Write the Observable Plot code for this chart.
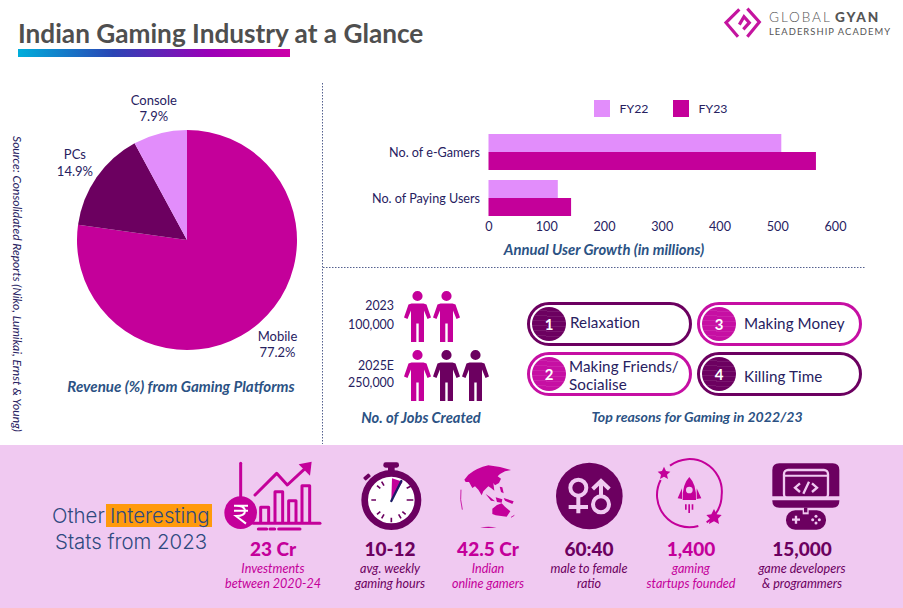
<!DOCTYPE html>
<html><head><meta charset="utf-8">
<script src="https://cdn.jsdelivr.net/npm/d3@7"></script>
<script src="https://cdn.jsdelivr.net/npm/@observablehq/plot@0.6"></script>
<style>
html,body{margin:0;padding:0;background:#fff}
#page{position:relative;width:903px;height:608px;overflow:hidden;font-family:Lato,"Noto Sans",sans-serif;background:#fff}
#page>svg,#page>figure{position:absolute;margin:0}
.t{position:absolute;white-space:nowrap;line-height:1}
.c{transform:translateX(-50%);text-align:center}
.cap{font-weight:700;font-style:italic;color:#2b5284}
.pill{position:absolute;box-sizing:border-box;width:165px;height:44px;border-radius:22px;border:3px solid;background:#fff}
.badge{position:absolute;left:2px;top:2px;width:34px;height:34px;border-radius:50%;color:#fff;font-weight:700;font-size:15px;text-align:center;line-height:34px;background-image:repeating-linear-gradient(2deg,rgba(255,255,255,.09) 0 1px,transparent 1px 5px)}
.pilltxt{position:absolute;color:#27215f;font-size:15.2px;letter-spacing:.08px;line-height:18.3px;white-space:nowrap}
.val{font-weight:900;font-size:19px}
.sub{font-style:italic;font-size:12.6px;line-height:15px}
.hl{font-family:Inter;font-weight:300;font-size:20.4px;color:#2f4a7f}
</style></head><body><div id="page"></div>
<script>
const MAGENTA="#c4009a", LILAC="#e28dfb", PLUM="#6c0060", NAVY="#27215f", BAND="#f0c9f1";

// Pie
const platforms=["Mobile","PCs","Console"];
const revenueShare=[77.2,14.9,7.9];
const platformColors=[MAGENTA,PLUM,LILAC];
// Bars
const userMetrics=["No. of e-Gamers","No. of Paying Users"];
const fiscalYears=["FY22","FY23"];
const usersFY22=[507,120];
const usersFY23=[567,143];
const userTicks=[0,100,200,300,400,500,600];
// Jobs pictogram
const jobYears=["2023","2025E"];
const jobCounts=["100,000","250,000"];
const jobIconFills=[[MAGENTA,MAGENTA],[MAGENTA,PLUM,PLUM]];
// Reasons
const reasons=["Relaxation","Making Friends/<br>Socialise","Making Money","Killing Time"];
const reasonColors=[PLUM,"#c60fa3","#c60fa3",PLUM];
// Stats
const statValues=["23 Cr","10-12","42.5 Cr","60:40","1,400","15,000"];
const statLabels=[["Investments","between 2020-24"],["avg. weekly","gaming hours"],["Indian","online gamers"],["male to female","ratio"],["gaming","startups founded"],["game developers","& programmers"]];
const statColors=[MAGENTA,PLUM,MAGENTA,PLUM,MAGENTA,PLUM];
const statCentres=[273,390,488,589,691,802];

const page=document.getElementById("page");
function place(node,l,t){node.style.left=l+"px";node.style.top=t+"px";page.appendChild(node);return node}
function text(s,x,y,css,cls="t"){const d=document.createElement("div");d.className=cls;d.innerHTML=s;d.style.cssText=`left:${x}px;top:${y}px;${css||""}`;page.appendChild(d);return d}

// page furniture
const deco=`<svg xmlns="http://www.w3.org/2000/svg" width="903" height="608" style="left:0;top:0">
<defs><linearGradient id="g"><stop offset="0" stop-color="#00aedb"/><stop offset=".35" stop-color="#2a45b5"/><stop offset=".7" stop-color="#9a00b8"/><stop offset="1" stop-color="#cc00a8"/></linearGradient></defs>
<rect x="0" y="445" width="903" height="163" fill="${BAND}"/>
<rect x="18" y="49" width="272" height="8" fill="url(#g)"/>
<line x1="322.5" y1="83" x2="322.5" y2="444" stroke="#54608f" stroke-dasharray="1.5 1.5"/>
<line x1="323" y1="267.5" x2="866" y2="267.5" stroke="#54608f" stroke-dasharray="1.5 1.5"/>
<g transform="translate(720,4) scale(.33333)" fill="none" stroke="#c4149f" stroke-width="9.5">
<path d="M58 16L18 56L54 98"/><path d="M82 14L118 54L82 98"/><path d="M58 62L72 38L88 56L70 76"/></g>
<rect x="106" y="504" width="106" height="23" fill="#ff9a0c"/>
<g transform="translate(0,445) scale(.33333)">
 <g fill="none" stroke="${MAGENTA}" stroke-width="9" stroke-linecap="round" stroke-linejoin="round">
  <path d="M722 55V165"/><path d="M760 235H960"/>
  <path d="M782 232V187H806V232M825 232V140H848V232M866 232V167H888V232M906 232V122H929V232"/>
  <path d="M765 150L830 85L862 120L918 68"/><path d="M775 252H800M810 252H824M836 252H900"/></g>
 <path d="M935 50L896 58L930 92Z" fill="${MAGENTA}"/>
 <circle cx="722" cy="203" r="49" fill="${MAGENTA}"/>
 <path d="M702 182H744M702 197H744M708 182Q735 182 735 198Q735 213 708 213L738 236" fill="none" stroke="#fff" stroke-width="6"/>
 <!-- stopwatch -->
 <g fill="${PLUM}"><rect x="1150" y="52" width="47" height="16" rx="7"/><rect x="1164" y="62" width="20" height="22"/>
  <rect x="1090" y="90" width="22" height="12" rx="3" transform="rotate(-40 1101 96)"/></g>
 <circle cx="1174" cy="165" r="80" fill="#fff" stroke="${PLUM}" stroke-width="20"/>
 <path d="M1174 165L1176 100L1208 110Z" fill="${MAGENTA}"/>
 <path d="M1174 168L1204 108" stroke="#1c1c66" stroke-width="7" stroke-linecap="round"/>
 <g stroke="${PLUM}" stroke-width="5"><path d="M1174 218V232M1114 165H1128M1220 165H1240M1131 122L1141 130M1217 208L1207 200M1131 208L1141 200M1235 122L1220 130M1145 220L1152 208M1203 220L1196 208M1145 110L1152 122"/></g>
</g>
<!-- globe -->
<g transform="translate(455,458) scale(.33333)" fill="${MAGENTA}">
 <path d="M28 65L40 50Q65 30 100 22L135 27L168 36L150 40L135 48L128 55L138 62L132 75L120 82L115 75L118 98L108 90L100 85L85 100L80 112L70 95L60 85L52 90L42 72L32 72Z"/>
 <path d="M92 108L104 116L120 130L108 128Z"/><path d="M122 118L142 124L140 134L126 132Z"/><path d="M134 86L142 88L146 106L138 102Z"/><path d="M146 120L176 130L172 138L150 128Z"/>
 <path d="M112 152L126 141L140 136L150 146L166 160L155 176L122 172L112 168Z"/>
 <path d="M75 208Q100 212 125 208Q100 205 75 208Z"/>
 <g fill="none" stroke="${MAGENTA}" stroke-width="2.5"><path d="M18 95Q14 125 22 155"/><path d="M168 178L178 172"/></g>
</g>
<g transform="translate(450,445) scale(.33333)">
 <!-- gender -->
 <circle cx="418" cy="153" r="100" fill="${PLUM}"/>
 <g fill="none" stroke="${BAND}" stroke-width="12"><circle cx="385" cy="128" r="24"/><path d="M385 152V205M356 186H414"/><circle cx="453" cy="178" r="24"/><path d="M453 154V106M428 132L453 108L478 132"/></g>
 <!-- rocket -->
 <path d="M660 62A97 97 0 0 1 815 150A97 97 0 0 1 770 232M745 243A97 97 0 0 1 632 105" fill="none" stroke="${MAGENTA}" stroke-width="6"/>
 <g fill="${MAGENTA}">
  <path d="M642 65L648 78L661 80L651 89L654 102L642 95L630 102L633 89L623 80L636 78Z"/>
  <path d="M792 192L800 208L815 210L804 221L807 237L792 229L777 237L780 221L769 210L784 208Z"/>
  <path d="M718 96Q740 118 738 165L698 165Q696 118 718 96Z"/><path d="M696 130L683 160L696 162Z"/><path d="M740 130L754 160L740 162Z"/>
  <path d="M705 178h5v16h-5zM715 178h5v26h-5zM725 178h5v16h-5z"/></g>
 <circle cx="718" cy="135" r="10" fill="${BAND}"/>
 <!-- dev -->
 <path d="M988 55H1148Q1168 55 1168 75V154H967V75Q967 55 988 55Z" fill="${PLUM}"/>
 <path d="M967 166H1168V168Q1168 188 1148 188H988Q967 188 967 168Z" fill="${PLUM}"/>
 <rect x="1002" y="75" width="132" height="85" rx="12" fill="none" stroke="${BAND}" stroke-width="7"/>
 <path d="M1002 92H1134" stroke="${BAND}" stroke-width="6"/>
 <g fill="none" stroke="${BAND}" stroke-width="7"><path d="M1050 115L1035 128L1050 141M1086 115L1101 128L1086 141M1077 110L1060 146"/></g>
 <rect x="1008" y="196" width="120" height="58" rx="28" fill="${PLUM}"/>
 <rect x="1058" y="192" width="18" height="16" fill="${BAND}"/><rect x="1062" y="188" width="10" height="14" fill="${PLUM}"/>
 <path d="M1038 212v24M1026 224h24" stroke="${BAND}" stroke-width="7"/>
 <g fill="${BAND}"><circle cx="1098" cy="214" r="4.5"/><circle cx="1098" cy="234" r="4.5"/><circle cx="1088" cy="224" r="4.5"/><circle cx="1108" cy="224" r="4.5"/></g>
</g>
</svg>`;
page.insertAdjacentHTML("beforeend",deco);

// Title & logo
text("Indian Gaming Industry at a Glance",18,20,"font-weight:700;font-size:26.2px;color:#4f4f4f");
text('<span style="font-weight:300">GLOBAL</span> <b style="font-weight:900">GYAN</b>',769,11,"font-size:13.6px;color:#555;letter-spacing:1.9px;word-spacing:-2px");
text("LEADERSHIP ACADEMY",769,27,"font-size:9.4px;color:#555;letter-spacing:1.05px");

// ---- Pie ----
const pieData=d3.pie().sort(null).startAngle(0).endAngle(2*Math.PI)(revenueShare)
  .map((a,i)=>({...a,name:platforms[i],color:platformColors[i]}));
const R=110, LABEL_R=137, mid=a=>(a.startAngle+a.endAngle)/2;
const pieLabels=pieData.map(a=>({x:Math.sin(mid(a))*LABEL_R,y:-Math.cos(mid(a))*LABEL_R,text:`${a.name}\n${a.value.toFixed(1)}%`}));
const pie=Plot.plot({width:322,height:361,margin:0,
  x:{domain:[-187,135],range:[0,322],axis:null},
  y:{domain:[-157,204],range:[0,361],axis:null},
  style:{background:"transparent",overflow:"visible"},
  marks:[
    (index,{x,y})=>{
      const arc=d3.arc().innerRadius(0).outerRadius(x(R)-x(0));
      const g=d3.create("svg:g").attr("transform",`translate(${x(0)},${y(0)})`);
      g.selectAll("path").data(pieData).join("path").attr("d",arc).attr("fill",d=>d.color);
      return g.node();
    },
    Plot.text(pieLabels,{x:"x",y:"y",text:"text",fill:NAVY,fontSize:13,lineHeight:1.27,fontFamily:"Lato"})
  ]});
place(pie,0,83);
text("Revenue (%) from Gaming Platforms",181,379,"font-size:15.1px","t c cap");
text("Source: Consolidated Reports (Niko, Lumikai, Ernst &amp; Young)",17,284,"font-style:italic;font-size:12px;color:#27215f;transform:translate(-50%,-50%) rotate(90deg)");

// ---- Bars ----
const rows=userMetrics.flatMap((m,i)=>[{metric:m,fy:fiscalYears[0],users:usersFY22[i]},{metric:m,fy:fiscalYears[1],users:usersFY23[i]}]);
const bars=Plot.plot({width:550,height:120,marginLeft:165.5,marginRight:38,marginTop:8,marginBottom:27,
  style:{background:"transparent",fontFamily:"Lato",fontSize:"12.6px",color:NAVY},
  x:{domain:[0,600],ticks:userTicks,label:null,tickSize:0,tickPadding:5},
  y:{domain:fiscalYears,axis:null,padding:0.01},
  fy:{domain:userMetrics,label:null,paddingInner:0.17,paddingOuter:0,tickSize:0,tickPadding:9,axis:"left"},
  color:{domain:fiscalYears,range:[LILAC,MAGENTA]},
  marks:[
    Plot.barX(rows,{x:"users",y:"fy",fy:"metric",fill:"fy"}),
  ]});
place(bars,323,125);
text("Annual User Growth (in millions)",604,242,"font-size:14.85px","t c cap");
// Legend
fiscalYears.forEach((fy,i)=>{
  const x=[594,673][i];
  const s=document.createElement("div");s.style.cssText=`position:absolute;left:${x}px;top:100px;width:16px;height:17px;background:${[LILAC,MAGENTA][i]}`;page.appendChild(s);
  text(fy,x+25.5,102.5,`font-size:12.3px;color:${NAVY}`);
});

// ---- Jobs pictogram ----
const person={draw(ctx,size){
  const k=Math.sqrt(size/Math.PI)/25.5;
  const P=(x,y)=>[x*k,y*k];
  ctx.moveTo(...P(5.1,-20.5));ctx.arc(0,-20.5*k,5.1*k,0,2*Math.PI);ctx.closePath();
  const pts=[[-6,-13],[6,-13],[9,-12],[13.5,1],[10,2.5],[6.5,-6],[6.5,25.5],[1.2,25.5],[1.2,7],[-1.2,7],[-1.2,25.5],[-6.5,25.5],[-6.5,-6],[-10,2.5],[-13.5,1],[-9,-12]];
  pts.forEach((p,i)=>i?ctx.lineTo(...P(...p)):ctx.moveTo(...P(...p)));ctx.closePath();
}};
const jobIcons=jobYears.flatMap((yr,r)=>jobIconFills[r].map((c,i)=>({year:yr,slot:i,color:c})));
const jobs=Plot.plot({width:100,height:118,margin:0,
  style:{background:"transparent",overflow:"visible"},
  x:{type:"point",domain:[0,1,2],range:[16.5,74.5],padding:0,axis:null},
  y:{type:"point",domain:jobYears,range:[29.5,88.5],padding:0,axis:null},
  marks:[Plot.dot(jobIcons,{x:"slot",y:"year",symbol:()=>person,r:25.5,fill:"color",stroke:null})]});
place(jobs,400,286);
jobYears.forEach((y,i)=>{
  const top=[300,360][i];
  const css=`font-size:12.4px;color:${NAVY};transform:translateX(-100%)`;
  text(y,394,top,css);
  text(jobCounts[i],394,top+(i?17:19),css);
});
text("No. of Jobs Created",421,410,"font-size:14.7px","t c cap");

// ---- Reasons ----
const reasonTextTop=[313,357,314,367];
reasons.forEach((r,i)=>{
  const col=i<2?0:1,row=i%2;
  const x=[527,697][col],y=[302,352][row];
  const p=document.createElement("div");p.className="pill";p.style.cssText=`left:${x}px;top:${y}px;border-color:${reasonColors[i]}`;
  p.innerHTML=`<div class="badge" style="background-color:${reasonColors[i]}">${i+1}</div>`;
  page.appendChild(p);
  text(r,col?744:(i==1?569:570),reasonTextTop[i],"","pilltxt");
});
text("Top reasons for Gaming in 2022/23",697,410,"font-size:14.1px","t c cap");

// ---- Bottom band ----
text("Other",52,506,"","t hl");
text("Interesting",110,506,"","t hl");
text("Stats from 2023",55,532,"","t hl");
statValues.forEach((v,i)=>{
  text(v,statCentres[i],539,`color:${statColors[i]}`,"t c val");
  text(statLabels[i].join("<br>"),statCentres[i],561,`color:${statColors[i]}`,"t c sub");
});
</script></body></html>
